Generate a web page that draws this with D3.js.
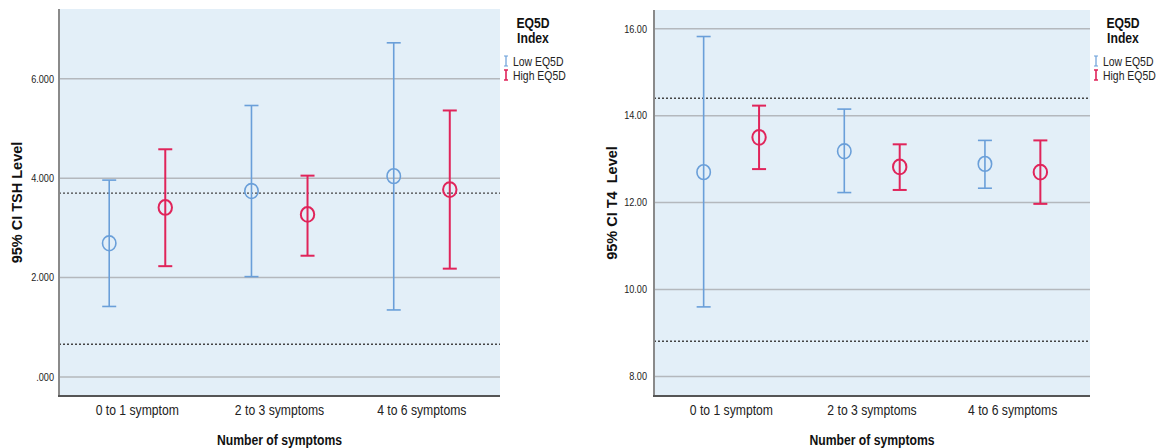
<!DOCTYPE html>
<html>
<head>
<meta charset="utf-8">
<script src="https://cdn.jsdelivr.net/npm/d3@7"></script>
<style>
  body { margin: 0; background: #fff; }
  svg { display: block; font-family: Arial, "Liberation Sans", sans-serif; }
</style>
</head>
<body>
<svg id="chart" width="1157" height="448"></svg>
<script>
// categories and groups
const categories = ['0 to 1 symptom', '2 to 3 symptoms', '4 to 6 symptoms'];
const groups = ['Low EQ5D', 'High EQ5D'];
const groupColors = ['#6a9fd9', '#e0245a'];

// TSH: mean, lower and upper 95% CI, per group
const tshMeanLow = [2.69, 3.74, 4.04];
const tshLowerLow = [1.42, 2.02, 1.35];
const tshUpperLow = [3.96, 5.46, 6.72];
const tshMeanHigh = [3.41, 3.27, 3.77];
const tshLowerHigh = [2.23, 2.44, 2.18];
const tshUpperHigh = [4.58, 4.05, 5.36];
const tshRefLines = [3.70, 0.66];
const tshTicks = [0, 2, 4, 6];

// T4
const t4MeanLow = [12.70, 13.18, 12.89];
const t4LowerLow = [9.60, 12.23, 12.33];
const t4UpperLow = [15.82, 14.15, 13.43];
const t4MeanHigh = [13.50, 12.82, 12.70];
const t4LowerHigh = [12.77, 12.29, 11.97];
const t4UpperHigh = [14.23, 13.34, 13.43];
const t4RefLines = [14.40, 8.81];
const t4Ticks = [8, 10, 12, 14, 16];

const SX = 0.87; // the source image is a bit squeezed sideways

const svg = d3.select('#chart');

function squeeze(sel) {
  sel.each(function() {
    const t = d3.select(this);
    const x = +t.attr('x') || 0, y = +t.attr('y') || 0;
    t.attr('x', null).attr('y', null)
      .attr('transform', `translate(${x},${y}) scale(${SX},1)`);
  });
}

function drawPanel(cfg) {
  const { left, right, top, bottom } = cfg;
  const g = svg.append('g');

  const x = d3.scalePoint().domain(categories).range([left, right]).padding(0.55);
  const y = d3.scaleLinear().domain(cfg.domain).range([bottom, top]);
  const off = x.step() * 0.197;

  g.append('rect')
    .attr('x', left).attr('y', top)
    .attr('width', right - left).attr('height', bottom - top)
    .attr('fill', '#e3eff8');

  // gridlines
  g.selectAll('.grid')
    .data(cfg.ticks)
    .enter().append('line')
    .attr('x1', left).attr('x2', right)
    .attr('y1', d => y(d)).attr('y2', d => y(d))
    .attr('stroke', '#b4b8bd').attr('stroke-width', 1.5);

  // reference lines
  g.selectAll('.ref')
    .data(cfg.refs)
    .enter().append('line')
    .attr('x1', left).attr('x2', right)
    .attr('y1', d => y(d)).attr('y2', d => y(d))
    .attr('stroke', '#444').attr('stroke-width', 1.3)
    .attr('stroke-dasharray', '2,2');

  // y axis
  const yAxis = g.append('g')
    .attr('transform', `translate(${left},0)`)
    .call(d3.axisLeft(y).tickValues(cfg.ticks).tickSize(0).tickPadding(cfg.pad).tickFormat(cfg.fmt));
  yAxis.select('.domain').remove();
  yAxis.selectAll('text')
    .attr('font-size', 10.5).attr('fill', '#222').attr('font-family', null);
  yAxis.selectAll('text').each(function() {
    const t = d3.select(this);
    t.attr('transform', `translate(${-cfg.pad},0) scale(${SX},1)`).attr('x', 0);
  });

  g.append('line')
    .attr('x1', left).attr('x2', left).attr('y1', top).attr('y2', bottom)
    .attr('stroke', '#8a8a8a').attr('stroke-width', 2);
  g.append('line')
    .attr('x1', left - 1).attr('x2', right).attr('y1', bottom).attr('y2', bottom)
    .attr('stroke', '#555').attr('stroke-width', 2);

  // category labels
  g.selectAll('.cat')
    .data(categories)
    .enter().append('text')
    .attr('x', d => x(d)).attr('y', bottom + 19)
    .attr('text-anchor', 'middle').attr('font-size', 14).attr('fill', '#222')
    .text(d => d)
    .call(squeeze);

  g.append('text')
    .attr('x', (left + right) / 2).attr('y', bottom + 49)
    .attr('text-anchor', 'middle').attr('font-size', 14).attr('font-weight', 'bold')
    .attr('fill', '#111')
    .text('Number of symptoms')
    .call(squeeze);

  g.append('text')
    .attr('transform', `translate(${cfg.titleX},${(top + bottom) / 2}) rotate(-90)`)
    .attr('text-anchor', 'middle').attr('font-size', 14.5).attr('font-weight', 'bold')
    .attr('fill', '#111').attr('xml:space', 'preserve')
    .style('white-space', 'pre')
    .text(cfg.yTitle);

  // error bars
  const cap = 7;
  cfg.series.forEach((s, gi) => {
    const color = groupColors[gi];
    const sw = gi === 0 ? 1.6 : 2;
    const dx = gi === 0 ? -off : off;
    const rows = categories.map((c, i) => ({ c, mean: s.mean[i], lo: s.lo[i], hi: s.hi[i] }));
    const bars = g.selectAll(`.bar${gi}`).data(rows).enter().append('g')
      .attr('transform', d => `translate(${x(d.c) + dx},0)`);
    bars.append('line')
      .attr('y1', d => y(d.lo)).attr('y2', d => y(d.hi))
      .attr('stroke', color).attr('stroke-width', sw);
    bars.append('line')
      .attr('x1', -cap).attr('x2', cap)
      .attr('y1', d => y(d.hi)).attr('y2', d => y(d.hi))
      .attr('stroke', color).attr('stroke-width', sw);
    bars.append('line')
      .attr('x1', -cap).attr('x2', cap)
      .attr('y1', d => y(d.lo)).attr('y2', d => y(d.lo))
      .attr('stroke', color).attr('stroke-width', sw);
    bars.append('ellipse')
      .attr('cy', d => y(d.mean)).attr('rx', 6.7).attr('ry', 7.4)
      .attr('fill', 'none').attr('stroke', color).attr('stroke-width', sw);
  });

  // legend
  const lg = g.append('g');
  lg.append('text')
    .attr('x', cfg.legendX + 27).attr('y', 28)
    .attr('text-anchor', 'middle').attr('font-size', 14).attr('font-weight', 'bold')
    .attr('fill', '#111').text('EQ5D').call(squeeze);
  lg.append('text')
    .attr('x', cfg.legendX + 27).attr('y', 43)
    .attr('text-anchor', 'middle').attr('font-size', 14).attr('font-weight', 'bold')
    .attr('fill', '#111').text('Index').call(squeeze);
  groups.forEach((name, i) => {
    const cy = 61 + i * 14;
    const color = groupColors[i];
    lg.append('path')
      .attr('d', `M${cfg.legendX - 2},${cy - 5}h4M${cfg.legendX},${cy - 5}v10M${cfg.legendX - 2},${cy + 5}h4`)
      .attr('stroke', color).attr('stroke-width', i === 0 ? 1.2 : 1.6).attr('fill', 'none');
    lg.append('text')
      .attr('x', cfg.legendX + 7).attr('y', cy + 4.5)
      .attr('font-size', 12).attr('fill', '#222')
      .text(name).call(squeeze);
  });
}

drawPanel({
  left: 59, right: 500, top: 9, bottom: 396,
  domain: [-0.38, 7.40], ticks: tshTicks, refs: tshRefLines,
  fmt: d => d3.format('.3f')(d).replace(/^0\./, '.'), pad: 5,
  yTitle: '95% CI TSH Level', titleX: 22, legendX: 506,
  series: [
    { mean: tshMeanLow, lo: tshLowerLow, hi: tshUpperLow },
    { mean: tshMeanHigh, lo: tshLowerHigh, hi: tshUpperHigh }
  ]
});

drawPanel({
  left: 654, right: 1090, top: 10, bottom: 396,
  domain: [7.55, 16.43], ticks: t4Ticks, refs: t4RefLines,
  fmt: d3.format('.2f'), pad: 7,
  yTitle: '95% CI T4  Level', titleX: 617, legendX: 1096,
  series: [
    { mean: t4MeanLow, lo: t4LowerLow, hi: t4UpperLow },
    { mean: t4MeanHigh, lo: t4LowerHigh, hi: t4UpperHigh }
  ]
});
</script>
</body>
</html>
